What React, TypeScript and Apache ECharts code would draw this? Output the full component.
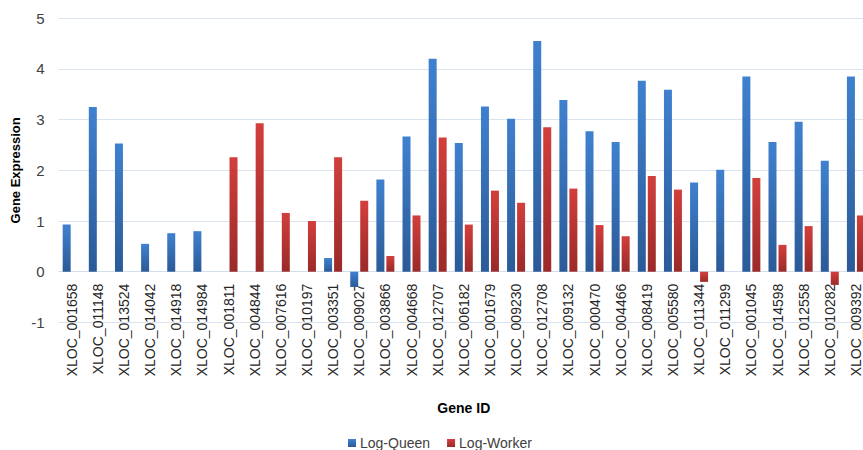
import React, { useEffect, useRef } from "react";
import * as echarts from "echarts";

const geneIds = [
  "XLOC_001658", "XLOC_011148", "XLOC_013524", "XLOC_014042", "XLOC_014918",
  "XLOC_014984", "XLOC_001811", "XLOC_004844", "XLOC_007616", "XLOC_010197",
  "XLOC_003351", "XLOC_009027", "XLOC_003866", "XLOC_004668", "XLOC_012707",
  "XLOC_006182", "XLOC_001679", "XLOC_009230", "XLOC_012708", "XLOC_009132",
  "XLOC_000470", "XLOC_004466", "XLOC_008419", "XLOC_005580", "XLOC_011344",
  "XLOC_011299", "XLOC_001045", "XLOC_014598", "XLOC_012558", "XLOC_010282",
  "XLOC_009392",
];

const logQueen = [
  0.93, 3.25, 2.53, 0.55, 0.76, 0.8, 0, 0, 0, 0,
  0.27, -0.3, 1.82, 2.67, 4.2, 2.54, 3.26, 3.02, 4.55, 3.39,
  2.77, 2.56, 3.77, 3.59, 1.76, 2.01, 3.85, 2.56, 2.96, 2.19,
  3.85,
];

const logWorker = [
  0, 0, 0, 0, 0, 0, 2.26, 2.93, 1.16, 1.0,
  2.26, 1.4, 0.31, 1.11, 2.65, 0.93, 1.6, 1.36, 2.85, 1.64,
  0.92, 0.7, 1.89, 1.62, -0.2, 0, 1.85, 0.53, 0.9, -0.26,
  1.11,
];

const yTicks = { min: -1, max: 5, interval: 1 };

const FONT = "'Liberation Sans', Arial, sans-serif";

export default function App() {
  const ref = useRef<HTMLDivElement>(null);
  useEffect(() => {
    if (!ref.current) return;
    const chart = echarts.init(ref.current, null, { renderer: "svg" });
    const grad = (top: string, bottom: string) =>
      new echarts.graphic.LinearGradient(0, 0, 0, 1, [
        { offset: 0, color: top },
        { offset: 1, color: bottom },
      ]);
    const top = 18.3;
    const bottom = 127.6;
    const plotH = 450 - top - bottom;
    const unitPx = plotH / (yTicks.max - yTicks.min);
    const zeroOffset = -unitPx * (0 - yTicks.min);
    chart.setOption({
      animation: false,
      backgroundColor: "#ffffff",
      textStyle: { fontFamily: FONT },
      grid: {
        left: 58.6,
        right: -6,
        top,
        bottom,
        containLabel: false,
        outerBoundsMode: "none",
      },
      legend: {
        data: ["Log-Queen", "Log-Worker"],
        left: 348,
        top: 436,
        padding: 0,
        itemWidth: 8,
        itemHeight: 8,
        itemGap: 17,
        icon: "rect",
        textStyle: { fontSize: 14, color: "#404040", fontFamily: FONT, padding: [0, 0, 0, -1] },
      },
      xAxis: {
        type: "category",
        data: geneIds,
        offset: zeroOffset,
        name: "Gene ID",
        nameLocation: "middle",
        nameGap: 129,
        nameMoveOverlap: false,
        nameTextStyle: { fontWeight: "bold", fontSize: 14, color: "#000", fontFamily: FONT },
        axisLine: { onZero: false, lineStyle: { color: "#d3dfee", width: 1 } },
        axisTick: { show: false },
        axisLabel: {
          rotate: 90,
          interval: 0,
          margin: 12,
          fontSize: 14,
          color: "#262626",
          fontFamily: FONT,
        },
      },
      yAxis: {
        type: "value",
        min: yTicks.min,
        max: yTicks.max,
        interval: yTicks.interval,
        name: "Gene Expression",
        nameLocation: "middle",
        nameGap: 37,
        nameMoveOverlap: false,
        nameTextStyle: { fontWeight: "bold", fontSize: 13, color: "#000", fontFamily: FONT },
        axisLine: { show: false },
        axisTick: { show: false },
        axisLabel: { fontSize: 15, color: "#404040", margin: 14, fontFamily: FONT },
        splitLine: { lineStyle: { color: "#dae4f1", width: 1 } },
      },
      series: [
        {
          name: "Log-Queen",
          type: "bar",
          data: logQueen,
          barWidth: 8,
          barGap: "25%",
          itemStyle: {
            color: grad("#3f81cf", "#2b5a97"),
          },
        },
        {
          name: "Log-Worker",
          type: "bar",
          data: logWorker,
          barWidth: 8,
          itemStyle: {
            color: grad("#d23f3c", "#9a2a29"),
          },
        },
      ],
    });
    return () => chart.dispose();
  }, []);
  return <div ref={ref} style={{ width: 863, height: 450, position: "absolute", left: 0, top: 0 }} />;
}
